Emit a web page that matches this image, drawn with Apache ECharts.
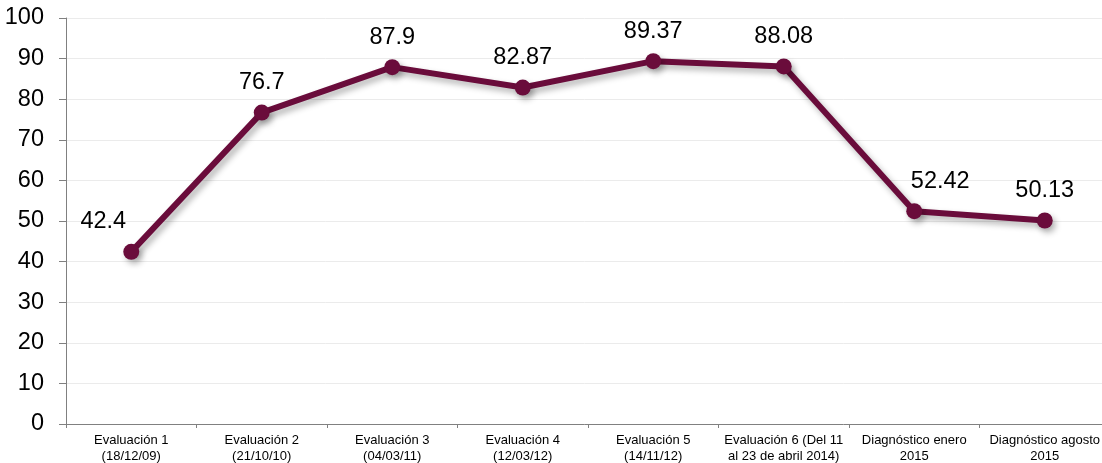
<!DOCTYPE html>
<html><head><meta charset="utf-8">
<script src="https://cdn.jsdelivr.net/npm/echarts@6/dist/echarts.min.js"></script>
<style>html,body{margin:0;padding:0;background:#fff}#c{width:1102px;height:463px}</style>
</head><body><div id="c"></div>
<script>
const categories = ["Evaluación 1\n(18/12/09)","Evaluación 2\n(21/10/10)","Evaluación 3\n(04/03/11)","Evaluación 4\n(12/03/12)","Evaluación 5\n(14/11/12)","Evaluación 6 (Del 11\nal 23 de abril 2014)","Diagnóstico enero\n2015","Diagnóstico agosto\n2015"];
const values = [42.4, 76.7, 87.9, 82.87, 89.37, 88.08, 52.42, 50.13];
const labelOffsets = [[-28,0],[0,0],[0,0],[0,0],[0,0],[0,0],[26,0],[0,0]];
const chart = echarts.init(document.getElementById('c'));
chart.setOption({
  animation:false,
  grid:{left:66,right:-8,top:18,bottom:39,containLabel:false,outerBoundsMode:'none'},
  xAxis:{type:'category',data:categories,boundaryGap:true,
    axisLine:{lineStyle:{color:'#808080',width:1}},
    axisTick:{show:true,alignWithLabel:false,length:4,lineStyle:{color:'#808080'}},
    axisLabel:{interval:0,color:'#000',fontFamily:'Liberation Sans, Arial',fontSize:13,lineHeight:16,margin:8,hideOverlap:false}},
  yAxis:{type:'value',min:0,max:100,interval:10,
    axisLine:{show:true,lineStyle:{color:'#808080'}},
    axisTick:{show:true,length:7,lineStyle:{color:'#808080'}},
    splitLine:{lineStyle:{color:'#ebebeb'}},
    axisLabel:{color:'#000',fontFamily:'Liberation Sans, Arial',fontSize:23.5,margin:22}},
  series:[{type:'line',data:values.map((v,i)=>({value:v,label:{offset:labelOffsets[i]}})),
    symbol:'circle',symbolSize:16,
    lineStyle:{color:'#6a0c3b',width:6,shadowColor:'rgba(0,0,0,0.3)',shadowBlur:6,shadowOffsetX:3,shadowOffsetY:4},
    itemStyle:{color:'#6a0c3b',shadowColor:'rgba(0,0,0,0.3)',shadowBlur:6,shadowOffsetX:3,shadowOffsetY:4},
    label:{show:true,position:'top',distance:10,color:'#000',fontFamily:'Liberation Sans, Arial',fontSize:23.5}
  }]
});
</script></body></html>
